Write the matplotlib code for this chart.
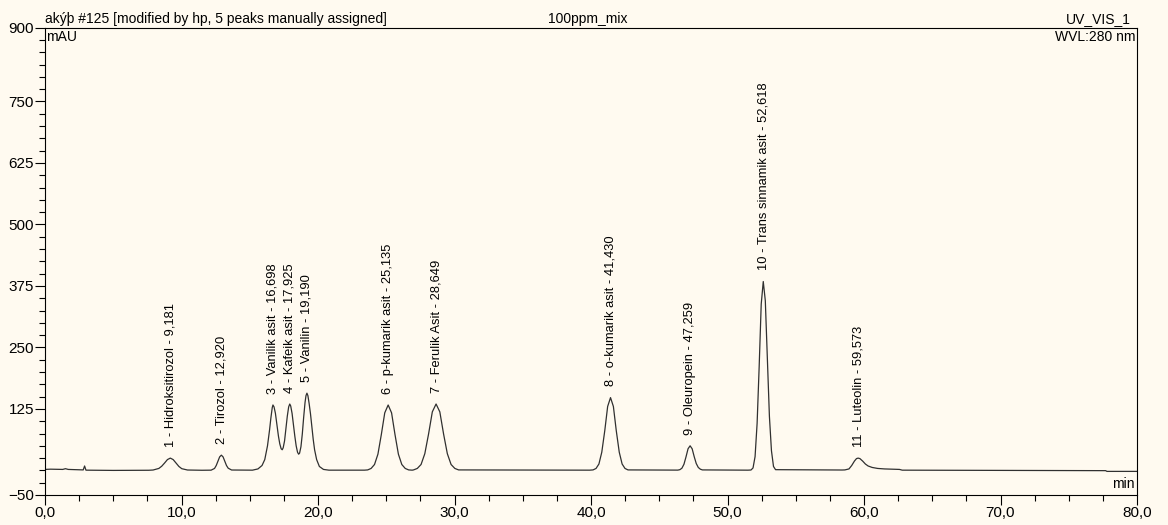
import matplotlib
matplotlib.use("Agg")
import matplotlib.pyplot as plt
from matplotlib.ticker import MultipleLocator, FixedLocator, FuncFormatter

# chromatogram trace (time in min, signal in mAU)
tid = [0.0, 0.4, 1.3, 1.5, 1.7, 2.8, 2.9, 3.0, 5.0, 7.6,
       7.92, 8.34, 8.55, 8.76, 8.97, 9.18, 9.39, 9.60, 9.81, 10.02, 10.44, 11.5,
       12.17, 12.42, 12.545, 12.67, 12.795, 12.92, 13.045, 13.17, 13.295, 13.42, 13.67, 15.2,
       15.6, 15.9, 16.1, 16.3, 16.45, 16.55, 16.65, 16.70, 16.78, 16.88, 17.0, 17.1, 17.2, 17.3,
       17.38, 17.45, 17.55, 17.65, 17.75, 17.85, 17.93, 18.0, 18.1, 18.2, 18.3, 18.4, 18.5,
       18.58, 18.65, 18.75, 18.85, 18.95, 19.05, 19.12, 19.19, 19.26, 19.35, 19.45, 19.55,
       19.65, 19.75, 19.9, 20.1, 20.4, 20.8, 23.4,
       23.64, 23.89, 24.14, 24.39, 24.64, 24.89, 25.14, 25.39, 25.64, 25.89, 26.14, 26.39, 26.64, 26.9,
       27.0, 27.275, 27.55, 27.825, 28.1, 28.375, 28.65, 28.925, 29.2, 29.475, 29.75, 30.025, 30.3, 39.9,
       40.15, 40.37, 40.58, 40.79, 41.01, 41.22, 41.43, 41.64, 41.85, 42.07, 42.28, 42.49, 42.71, 46.2,
       46.36, 46.51, 46.66, 46.81, 46.96, 47.11, 47.26, 47.41, 47.56, 47.71, 47.86, 48.01, 48.16, 51.5,
       51.72, 51.87, 52.02, 52.17, 52.32, 52.47, 52.62, 52.77, 52.92, 53.07, 53.22, 53.37, 53.52, 58.4,
       58.6, 58.9, 59.1, 59.3, 59.45, 59.57, 59.7, 59.9, 60.1, 60.3, 60.6, 61.0, 61.5, 62.0, 62.6, 62.8,
       70.0, 77.7, 77.8, 80.0]
signal = [2, 2.5, 2, 3.5, 2, 1, 9, 0.5, 0, 0.3,
          0.8, 4, 8.5, 15, 22, 25, 22, 15, 8, 3.5, 0.8, 0.3,
          0.5, 4, 10, 19, 27.5, 31, 27.5, 19, 10, 4.5, 0.8, 0.5,
          3, 10, 22, 50, 82, 107, 128, 133, 129, 116, 90, 70, 54, 44,
          42, 46, 60, 85, 110, 129, 135, 131, 116, 93, 70, 50, 37,
          33, 35, 48, 74, 108, 138, 152, 157, 152, 136, 115, 88,
          63, 42, 22, 8, 2, 0.5, 0.5,
          1, 4, 12, 33, 73, 117, 133, 117, 73, 33, 12, 4, 1, 0.5,
          1, 4, 12, 34, 74, 119, 135, 119, 74, 34, 12, 4, 1, 0.5,
          1, 4, 13, 37, 81, 130, 148, 130, 81, 37, 13, 4, 1, 0.5,
          0.6, 1.5, 4.5, 12.5, 27.5, 44, 50, 44, 28, 14, 6, 2.5, 1, 0.5,
          0.8, 5, 28, 96, 211, 338, 384, 345, 225, 110, 40, 8, 1.5, 0.8,
          1, 3, 10, 19, 24, 25, 24, 19, 13, 9, 6, 4, 3, 2.5, 2, 0.5,
          0, -0.5, -2, -2]

# peak table
peak_tid = [9.181, 12.920, 16.698, 17.925, 19.190, 25.135, 28.649, 41.430, 47.259, 52.618, 59.573]
peak_hoyde = [25, 31, 133, 135, 157, 133, 135, 148, 50, 384, 25]
peak_navn = ["1 - Hidroksitirozol - 9,181", "2 - Tirozol - 12,920", "3 - Vanilik asit - 16,698",
             "4 - Kafeik asit - 17,925", "5 - Vanilin - 19,190", "6 - p-kumarik asit - 25,135",
             "7 - Ferulik Asit - 28,649", "8 - o-kumarik asit - 41,430", "9 - Oleuropein - 47,259",
             "10 - Trans sinnamik asit - 52,618", "11 - Luteolin - 59,573"]

y_ticks = [-50, 125, 250, 375, 500, 625, 750, 900]

bg = "#FFFAF0"
plt.rcParams["font.family"] = ["Liberation Sans", "DejaVu Sans"]

fig = plt.figure(figsize=(11.68, 5.25), dpi=100, facecolor=bg)
ax = fig.add_axes([45/1168, 30/525, 1092/1168, 467.3/525])
ax.set_facecolor(bg)

ax.plot(tid, signal, color="#303030", lw=0.9)

ax.set_xlim(0, 80)
ax.set_ylim(-50, 900)

ax.xaxis.set_major_locator(MultipleLocator(10))
ax.xaxis.set_minor_locator(MultipleLocator(2.5))
ax.xaxis.set_major_formatter(FuncFormatter(lambda v, p: f"{v:.1f}".replace(".", ",")))
ax.yaxis.set_major_locator(FixedLocator(y_ticks))
ax.yaxis.set_minor_locator(MultipleLocator(25))
ax.tick_params(which="major", length=7, width=0.8, labelsize=11, pad=1, colors="black")
ax.tick_params(which="minor", length=4, width=0.8)
for s in ax.spines.values():
    s.set_linewidth(0.8)

# peak labels, rotated, just above the apex
for t, h, navn in zip(peak_tid, peak_hoyde, peak_navn):
    ax.annotate(navn, (t, h), xytext=(0, 8), textcoords="offset points",
                rotation=90, ha="center", va="bottom", fontsize=9.3)

# header and corner texts
ax.text(0.0, 1.003, "akýþ #125 [modified by hp, 5 peaks manually assigned]",
        transform=ax.transAxes, ha="left", va="bottom", fontsize=10)
ax.text(0.497, 1.003, "100ppm_mix", transform=ax.transAxes, ha="center", va="bottom", fontsize=10)
ax.text(0.994, 1.003, "UV_VIS_1", transform=ax.transAxes, ha="right", va="bottom", fontsize=10)
ax.text(0.001, 0.995, "mAU", transform=ax.transAxes, ha="left", va="top", fontsize=10)
ax.text(0.999, 0.995, "WVL:280 nm", transform=ax.transAxes, ha="right", va="top", fontsize=10)
ax.text(0.998, 0.008, "min", transform=ax.transAxes, ha="right", va="bottom", fontsize=10)

fig.savefig("out.png", dpi=100, facecolor=bg)
